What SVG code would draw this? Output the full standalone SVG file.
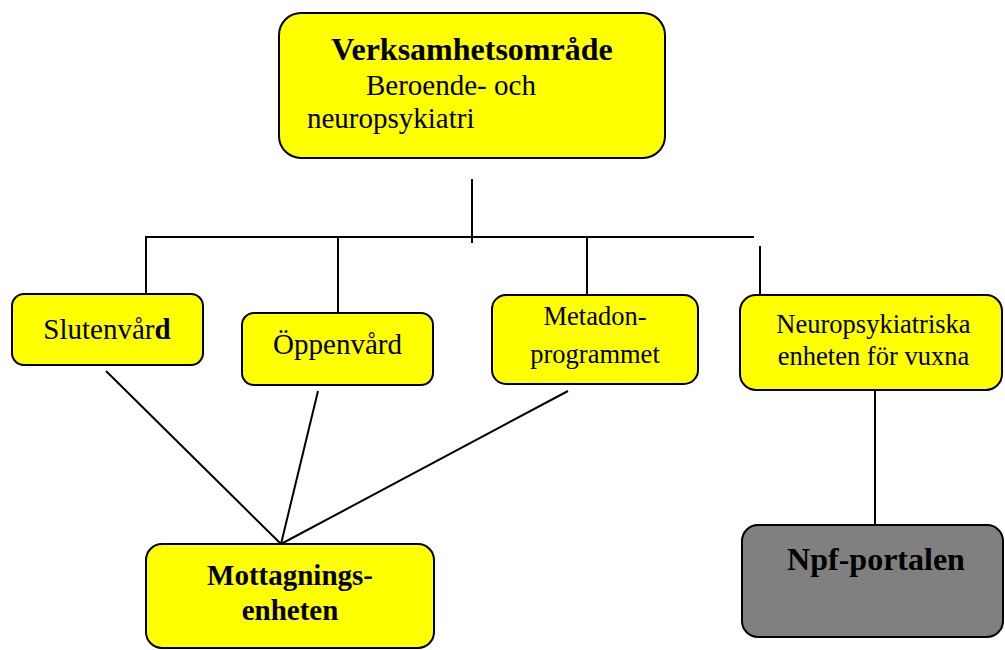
<svg xmlns="http://www.w3.org/2000/svg" width="1005" height="650" viewBox="0 0 1005 650">
  <style>
    .box { fill: #ffff00; stroke: #000; stroke-width: 2; }
    .gray { fill: #808080; stroke: #000; stroke-width: 2; }
    .t { font-family: "Liberation Serif", "Times New Roman", serif; fill: #000; }
    .b { font-weight: bold; }
    .c { text-anchor: middle; }
    .conn line { stroke: #000; stroke-width: 2; }
  </style>
  <rect width="1005" height="650" fill="#fff"/>
  <g class="conn" id="connectors">
    <line x1="472" y1="179" x2="472" y2="243"/>
    <line x1="145" y1="237" x2="754" y2="237"/>
    <line x1="146" y1="236" x2="146" y2="294"/>
    <line x1="338" y1="237" x2="338" y2="313"/>
    <line x1="587" y1="237" x2="587" y2="295"/>
    <line x1="760" y1="246" x2="760" y2="295"/>
    <line x1="875" y1="390" x2="875" y2="525"/>
    <line x1="106" y1="371" x2="281" y2="544"/>
    <line x1="318" y1="391" x2="281" y2="544"/>
    <line x1="568" y1="391" x2="281" y2="544"/>
  </g>
  <g id="verksamhetsomrade">
    <rect class="box" x="279" y="13" width="386" height="145" rx="22"/>
    <text class="t b c" x="472" y="60" font-size="32">Verksamhetsområde</text>
    <text class="t" x="366" y="95" font-size="29">Beroende- och</text>
    <text class="t" x="307" y="128" font-size="29">neuropsykiatri</text>
  </g>
  <g id="slutenvard">
    <rect class="box" x="12" y="294" width="191" height="71" rx="12"/>
    <text class="t c" x="107" y="339" font-size="29">Slutenvår<tspan class="b">d</tspan></text>
  </g>
  <g id="oppenvard">
    <rect class="box" x="242" y="313" width="191" height="72" rx="12"/>
    <text class="t c" x="337.5" y="354" font-size="29">Öppenvård</text>
  </g>
  <g id="metadon">
    <rect class="box" x="492" y="295" width="206" height="89" rx="14"/>
    <text class="t c" x="595" y="325" font-size="26.5">Metadon-</text>
    <text class="t c" x="595" y="363" font-size="26.5">programmet</text>
  </g>
  <g id="neuropsykiatriska">
    <rect class="box" x="740" y="295" width="262" height="95" rx="16"/>
    <text class="t c" x="873.5" y="333" font-size="26.5">Neuropsykiatriska</text>
    <text class="t c" x="873.5" y="365" font-size="26.5">enheten för vuxna</text>
  </g>
  <g id="mottagningsenheten">
    <rect class="box" x="146" y="544" width="288" height="104" rx="16"/>
    <text class="t b c" x="290" y="585" font-size="29">Mottagnings-</text>
    <text class="t b c" x="290" y="620" font-size="29">enheten</text>
  </g>
  <g id="npf-portalen">
    <rect class="gray" x="742" y="525" width="261" height="112" rx="16"/>
    <text class="t b c" x="876" y="570" font-size="32">Npf-portalen</text>
  </g>
</svg>
